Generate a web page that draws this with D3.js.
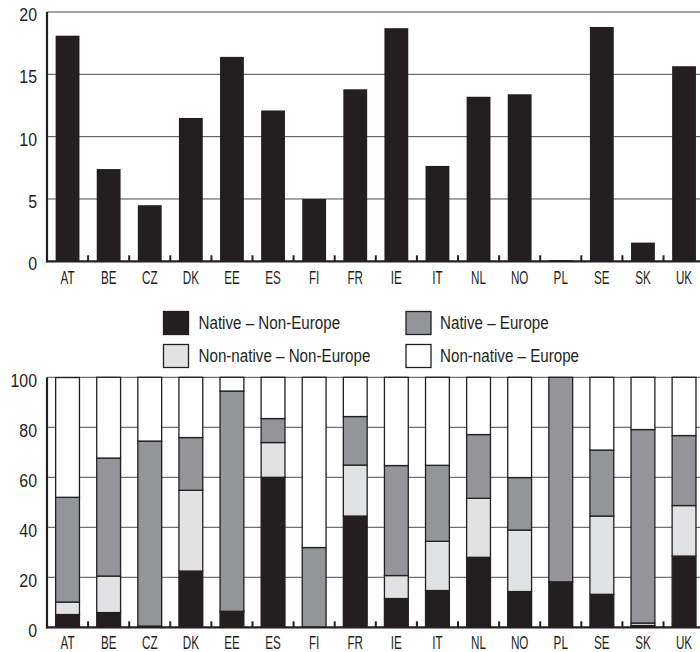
<!DOCTYPE html>
<html>
<head>
<meta charset="utf-8">
<script src="https://cdn.jsdelivr.net/npm/d3@7"></script>
<style>
html,body{margin:0;padding:0;background:#fff;}
svg{display:block;}
text{font-family:'Liberation Sans',Arial,sans-serif;fill:#231f20;}
</style>
</head>
<body>
<svg id="chart" width="700" height="652"></svg>
<script>
const categories = ["AT","BE","CZ","DK","EE","ES","FI","FR","IE","IT","NL","NO","PL","SE","SK","UK"];
const topValues = [18.1,7.4,4.5,11.5,16.4,12.1,5.0,13.8,18.7,7.65,13.2,13.4,0.1,18.8,1.5,15.65];
const topTicks = [0,5,10,15,20];
const bottomTicks = [0,20,40,60,80,100];

const seriesNames = ["Native – Non-Europe","Non-native – Non-Europe","Native – Europe","Non-native – Europe"];
const seriesColors = ["#231f20","#e1e2e3","#939598","#ffffff"];
// shares per country (stacked from bottom)
const nativeNonEurope    = [5.1,5.9,0.2,22.5,6.1,60.0,0,44.5,11.5,14.7,28.0,14.3,18.1,13.2,0.7,28.5];
const nonNativeNonEurope = [5.0,14.6,0.3,32.3,0.3,13.9,0,20.4,9.2,19.7,23.6,24.6,0.1,31.3,1.0,20.2];
const nativeEurope       = [41.9,47.2,74.0,21.1,88.1,9.6,31.9,19.4,44.0,30.4,25.5,21.0,81.8,26.4,77.4,28.0];
const nonNativeEurope    = [47.9,32.3,25.5,24.1,5.5,16.5,68.1,15.7,35.3,35.2,22.9,40.1,0.0,29.1,20.9,23.3];

const svg = d3.select("#chart");
const x = d3.scaleBand().domain(categories).range([47, 704.6]).paddingInner(0.42).paddingOuter(0.21);
const step = x.step();
const boundaries = categories.slice(1).map(c => x(c) - x.paddingInner()*step/2);

function condense(sel, sx) {
  sel.each(function() {
    const t = d3.select(this);
    const xv = +t.attr("x") || 0;
    t.attr("x", xv / sx).attr("transform", `scale(${sx},1)`);
  });
}

function drawGrid(g, y, ticks, gridFrom) {
  g.append("g").selectAll("line").data(ticks.filter(t => t >= gridFrom)).join("line")
    .attr("x1", 47).attr("x2", 700)
    .attr("y1", d => y(d)).attr("y2", d => y(d))
    .attr("stroke", "#4d4d4f").attr("stroke-width", 1);
}

function drawAxes(g, y, ticks, labelOffset, catBaseline) {
  const yAxis = d3.axisLeft(y).tickValues(ticks).tickSize(0).tickPadding(10);
  const ya = g.append("g").attr("transform", "translate(47,0)").call(yAxis);
  ya.attr("font-family", null).attr("font-size", null);
  ya.select(".domain").remove();
  ya.selectAll("text").attr("font-size", 18.5).attr("dy", null).attr("y", labelOffset);
  condense(ya.selectAll("text"), 0.86);
  g.append("line").attr("x1", 47).attr("x2", 47)
    .attr("y1", y.range()[1]).attr("y2", y.range()[0] + 1)
    .attr("stroke", "#231f20").attr("stroke-width", 2.2);
  g.append("line").attr("x1", 46).attr("x2", 700)
    .attr("y1", y(0)).attr("y2", y(0))
    .attr("stroke", "#231f20").attr("stroke-width", 2.2);
  g.append("g").selectAll("line").data(boundaries).join("line")
    .attr("x1", d => d).attr("x2", d => d)
    .attr("y1", y(0)).attr("y2", y(0) - 6)
    .attr("stroke", "#231f20").attr("stroke-width", 2);
  const xAxis = d3.axisBottom(x).tickSize(0).tickPadding(0);
  const xa = g.append("g").attr("transform", `translate(0,${catBaseline})`).call(xAxis);
  xa.attr("font-family", null).attr("font-size", null);
  xa.select(".domain").remove();
  xa.selectAll("text").attr("font-size", 18.5).attr("dy", null).attr("y", 0);
  condense(xa.selectAll("text"), 0.63);
}

// ---------- top panel ----------
const yTop = d3.scaleLinear().domain([0, 20]).range([261.3, 12]);
const gTop = svg.append("g");
drawGrid(gTop, yTop, topTicks, 5);
gTop.append("g").selectAll("rect").data(categories).join("rect")
  .attr("x", d => x(d)).attr("width", x.bandwidth())
  .attr("y", (d, i) => yTop(topValues[i]))
  .attr("height", (d, i) => yTop(0) - yTop(topValues[i]))
  .attr("fill", "#231f20");
drawAxes(gTop, yTop, topTicks, 8.5, 284);

// ---------- legend ----------
const legendPos = [[163.5, 311.5], [163.5, 344.5], [406, 311.5], [406, 344.5]];
const lg = svg.append("g");
seriesNames.forEach((name, k) => {
  const [lx, ly] = legendPos[k];
  lg.append("rect").attr("x", lx).attr("y", ly).attr("width", 25).attr("height", 23)
    .attr("fill", seriesColors[k]).attr("stroke", "#231f20").attr("stroke-width", 1.3);
  const t = lg.append("text").attr("x", lx + (k < 2 ? 35 : 34)).attr("y", ly + 17.5)
    .attr("font-size", 18.5).text(name);
  condense(t, 0.82);
});

// ---------- bottom panel ----------
const yBot = d3.scaleLinear().domain([0, 100]).range([627.3, 377.3]);
const gBot = svg.append("g");
drawGrid(gBot, yBot, bottomTicks, 20);
const table = categories.map((c, i) => ({
  cat: c, s0: nativeNonEurope[i], s1: nonNativeNonEurope[i], s2: nativeEurope[i], s3: nonNativeEurope[i]
}));
const stack = d3.stack().keys(["s0", "s1", "s2", "s3"]);
const layers = stack(table);
gBot.append("g").selectAll("g").data(layers).join("g")
  .attr("fill", (d, i) => seriesColors[i])
  .selectAll("rect").data(d => d).join("rect")
  .attr("x", d => x(d.data.cat)).attr("width", x.bandwidth())
  .attr("y", d => yBot(Math.min(d[1], 100)))
  .attr("height", d => Math.max(0, yBot(d[0]) - yBot(Math.min(d[1], 100))))
  .attr("stroke", "#231f20").attr("stroke-width", 1.3);
drawAxes(gBot, yBot, bottomTicks, 9.5, 648.5);
</script>
</body>
</html>
